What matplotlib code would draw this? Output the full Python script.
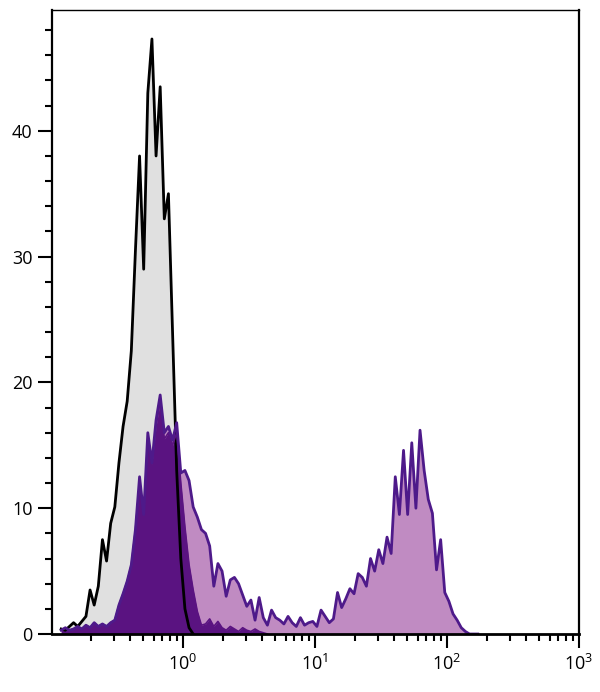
import numpy as np
import matplotlib
matplotlib.use('Agg')
import matplotlib.pyplot as plt
from matplotlib.ticker import LogLocator, MultipleLocator

plt.rcParams['font.family'] = ['Open Sans', 'DejaVu Sans']
plt.rcParams['mathtext.default'] = 'regular'

# log channel grid: 32 points per decade, first centre at 10^-0.921875
log_start = -0.921875
log_step = 0.03125

# counts per channel
black_counts = [0.4, 0.3, 0.6, 0.9, 0.6, 1.0, 1.4, 3.5, 2.3, 3.8,
                7.5, 5.8, 8.8, 10.1, 13.6, 16.5, 18.5, 22.5, 30.5, 38.0,
                29.0, 43.0, 47.3, 38.0, 43.5, 33.0, 35.0, 24.0, 13.0, 6.0,
                2.0, 0.5, 0.0]

stained_counts = [0.3, 0.5, 0.3, 0.4, 0.6, 0.4, 0.7, 0.5, 0.9, 0.6, 0.8, 0.6, 0.9,
                  1.1, 2.3, 3.2, 4.2, 5.5, 8.3, 12.5, 9.5, 16.0, 13.6, 17.0, 19.0,
                  16.0, 16.5, 15.4, 16.8, 12.8, 13.0, 12.2, 10.1, 9.3, 8.3, 8.0,
                  7.0, 3.8, 5.6, 5.0, 3.0, 4.3, 4.5, 4.0, 3.1, 2.2, 2.7, 1.1, 2.9,
                  1.3, 0.7, 1.9, 1.3, 1.1, 0.8, 1.4, 0.9, 0.6, 1.3, 0.7, 0.9, 1.0,
                  0.6, 1.9, 1.4, 0.9, 1.2,
                  3.3, 2.1, 2.8, 3.6, 3.2, 4.8, 4.5, 3.8, 6.0, 5.0, 6.7, 5.6, 7.7,
                  6.4, 12.5, 9.5, 14.6, 9.5, 15.2, 10.0, 16.2, 13.0, 10.7, 9.6,
                  5.1, 7.5, 3.3, 2.6, 1.6, 1.1, 0.5, 0.2, 0.0, 0.0, 0.0]

dark_counts = [0.3, 0.5, 0.3, 0.4, 0.6, 0.4, 0.7, 0.5, 0.9, 0.6, 0.8, 0.6, 0.9,
               1.1, 2.3, 3.2, 4.2, 5.5, 8.3, 12.0, 9.5, 15.5, 13.5, 16.5, 18.5,
               15.5, 16.0, 15.0, 16.0, 12.0, 8.5, 5.5, 3.5, 1.8, 0.7, 0.8,
               1.2, 0.6, 1.0, 0.5, 0.3, 0.6, 0.4, 0.2, 0.5, 0.3, 0.2, 0.4, 0.2,
               0.1, 0.0]

gray_fill = '#e0e0e0'
light_purple = '#c08bc2'
purple_line = '#4e1a8a'
dark_purple = '#5a1381'


def channel_x(counts):
    return 10 ** (log_start + log_step * np.arange(len(counts)))


fig = plt.figure(figsize=(6, 6.92), dpi=100)
ax = fig.add_axes([0.0867, 0.0838, 0.878, 0.9017])

xb = channel_x(black_counts)
ax.fill_between(xb, 0, black_counts, color=gray_fill, lw=0)
ax.plot(xb, black_counts, color='black', lw=2.0)

xs = channel_x(stained_counts)
ax.fill_between(xs, 0, stained_counts, color=light_purple, lw=0)

xd = channel_x(dark_counts)
ax.fill_between(xd, 0, dark_counts, color=dark_purple, lw=0)
ax.plot(xd, dark_counts, color=dark_purple, lw=1.2)

ax.plot(xs, stained_counts, color=purple_line, lw=2.0)

ax.set_xscale('log')
ax.set_xlim(0.102, 1000)
ax.set_ylim(0, 49.6)

ax.xaxis.set_major_locator(LogLocator(base=10, numticks=10))
ax.xaxis.set_minor_locator(LogLocator(base=10, subs=np.arange(2, 10), numticks=20))
ax.yaxis.set_major_locator(MultipleLocator(10))
ax.yaxis.set_minor_locator(MultipleLocator(2))

ax.tick_params(which='major', direction='out', length=10, width=1.5,
               labelsize=13, pad=4, top=False, right=False)
ax.tick_params(which='minor', direction='out', length=5, width=1.5,
               top=False, right=False)

ax.spines['left'].set_linewidth(1.6)
ax.spines['bottom'].set_linewidth(2.0)
ax.spines['right'].set_linewidth(1.6)
ax.spines['top'].set_linewidth(1.0)

fig.savefig('out.png', dpi=100)
